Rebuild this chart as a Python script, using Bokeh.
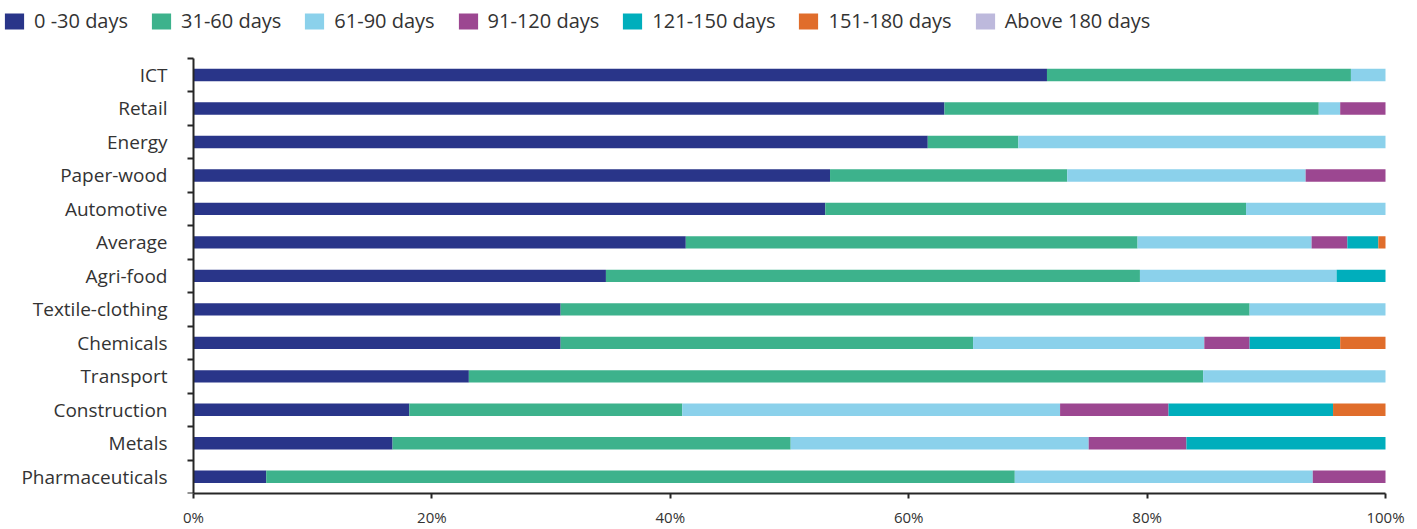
from bokeh.plotting import figure
from bokeh.models import (ColumnDataSource, Range1d, FixedTicker, NumeralTickFormatter,
                          Legend, LegendItem)
from bokeh.embed import file_html
from bokeh.resources import INLINE

categories = ["ICT", "Retail", "Energy", "Paper-wood", "Automotive", "Average", "Agri-food",
              "Textile-clothing", "Chemicals", "Transport", "Construction", "Metals",
              "Pharmaceuticals"]
series = ["0 -30 days", "31-60 days", "61-90 days", "91-120 days", "121-150 days",
          "151-180 days", "Above 180 days"]
colors = ["#293589", "#3db28c", "#8bd1eb", "#9c4791", "#00aebc", "#e06d2b", "#bdb9dc"]

d_0_30    = [71.6, 63.0, 61.6, 53.4, 53.0, 41.3, 34.6, 30.8, 30.8, 23.1, 18.1, 16.7, 6.1]
d_31_60   = [25.5, 31.4, 7.6, 19.9, 35.3, 37.9, 44.8, 57.8, 34.6, 61.6, 22.9, 33.4, 62.8]
d_61_90   = [2.9, 1.8, 30.8, 20.0, 11.7, 14.6, 16.5, 11.4, 19.4, 15.3, 31.7, 25.0, 25.0]
d_91_120  = [0.0, 3.8, 0.0, 6.7, 0.0, 3.0, 0.0, 0.0, 3.8, 0.0, 9.1, 8.2, 6.1]
d_121_150 = [0.0, 0.0, 0.0, 0.0, 0.0, 2.6, 4.1, 0.0, 7.6, 0.0, 13.8, 16.7, 0.0]
d_151_180 = [0.0, 0.0, 0.0, 0.0, 0.0, 0.6, 0.0, 0.0, 3.8, 0.0, 4.4, 0.0, 0.0]
d_above   = [0.0, 0.0, 0.0, 0.0, 0.0, 0.0, 0.0, 0.0, 0.0, 0.0, 0.0, 0.0, 0.0]

all_series = [d_0_30, d_31_60, d_61_90, d_91_120, d_121_150, d_151_180, d_above]
keys = ["s%d" % i for i in range(len(series))]

n = len(categories)
ypos = [n - 1 - i for i in range(n)]
data = {"y": ypos, "cat": categories}
for k, vals in zip(keys, all_series):
    data[k] = [v / 100.0 for v in vals]
source = ColumnDataSource(data)

FONT = "Open Sans"
TXT = "#333333"
AX = "#262626"

# layout constants (pixels)
W, H = 1417, 529
AX_LEFT, AX_RIGHT = 193, 1385      # x pixels of 0% and 100%
TOP, BOTTOM = 58, 495              # y pixels of category block top / x axis
px_x = (AX_RIGHT - AX_LEFT) / 1.0
px_y = (BOTTOM - TOP) / n

x_range = Range1d(-AX_LEFT / px_x, (W - AX_LEFT) / px_x)
y_range = Range1d(-0.5, n - 0.5 + TOP / px_y)

p = figure(width=W, height=H, output_backend="svg", toolbar_location=None,
           x_range=x_range, y_range=y_range,
           min_border_left=0, min_border_right=0, min_border_top=0,
           min_border_bottom=H - BOTTOM)
p.outline_line_color = None
p.xgrid.visible = False
p.ygrid.visible = False

renderers = p.hbar_stack(keys, y="y", height=0.37, color=colors, source=source,
                         line_color=None)

p.xaxis.ticker = FixedTicker(ticks=[0, 0.2, 0.4, 0.6, 0.8, 1.0])
p.xaxis.bounds = (0, 1)
p.xaxis.formatter = NumeralTickFormatter(format="0%")
p.xaxis.major_label_text_font = FONT
p.xaxis.major_label_text_font_size = "15px"
p.xaxis.major_label_text_color = TXT
p.xaxis.axis_line_color = AX
p.xaxis.axis_line_width = 2
p.xaxis.major_tick_line_color = AX
p.xaxis.major_tick_line_width = 2
p.xaxis.major_tick_in = 0
p.xaxis.major_tick_out = 5
p.xaxis.minor_tick_line_color = None
p.xaxis.major_label_standoff = 8

p.yaxis.fixed_location = 0
p.yaxis.bounds = (-0.5, n - 0.5)
p.yaxis.ticker = FixedTicker(ticks=ypos, minor_ticks=[i - 0.5 for i in range(n + 1)])
p.yaxis.major_label_overrides = {y: c for y, c in zip(ypos, categories)}
p.yaxis.major_label_text_font = FONT
p.yaxis.major_label_text_font_size = "19px"
p.yaxis.major_label_text_color = TXT
p.yaxis.axis_line_color = AX
p.yaxis.axis_line_width = 2
p.yaxis.major_tick_line_color = None
p.yaxis.major_tick_in = 0
p.yaxis.major_tick_out = 0
p.yaxis.minor_tick_line_color = AX
p.yaxis.minor_tick_line_width = 2
p.yaxis.minor_tick_in = 0
p.yaxis.minor_tick_out = 6
p.yaxis.major_label_standoff = 20

items = [LegendItem(label=s, renderers=[r]) for s, r in zip(series, renderers)]
legend = Legend(items=items, orientation="horizontal", location=(2, BOTTOM - 36),
                glyph_width=24, glyph_height=20, label_standoff=8, spacing=21,
                padding=0, margin=0, border_line_color=None, background_fill_alpha=0,
                label_text_font=FONT, label_text_font_size="20px",
                label_text_color=TXT, label_height=20)
p.add_layout(legend, "center")

open("out.html", "w").write(file_html(p, INLINE))
